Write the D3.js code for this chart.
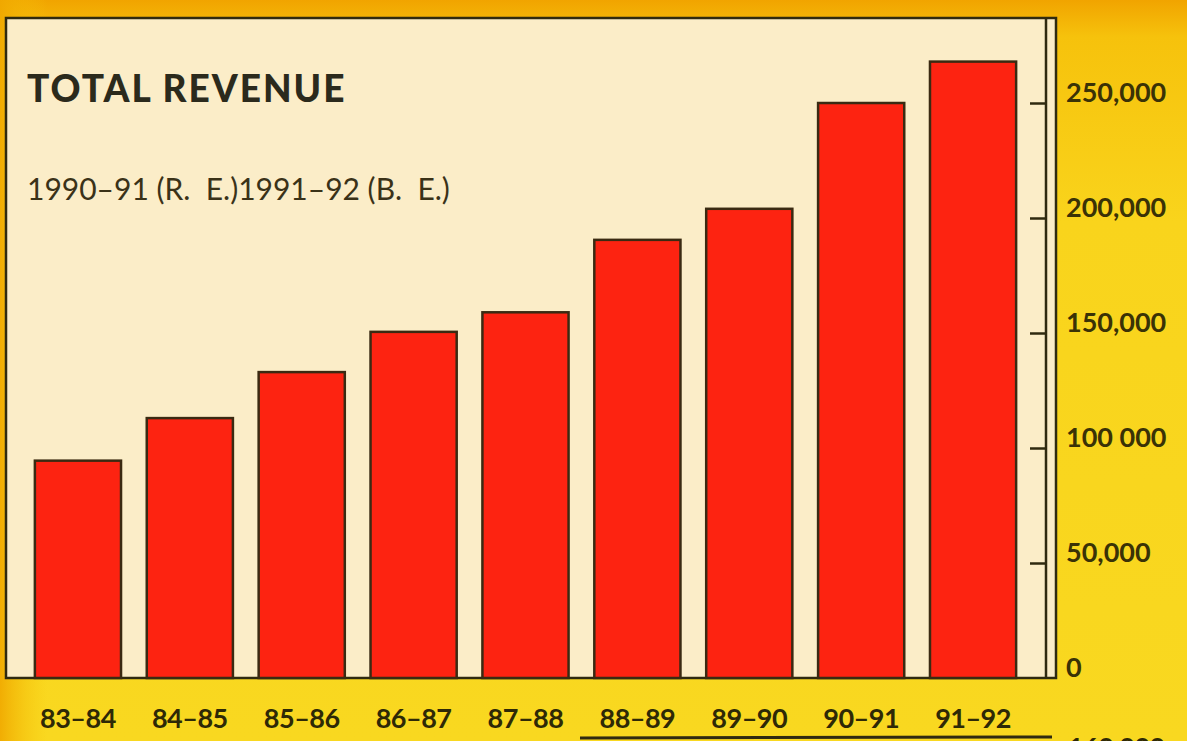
<!DOCTYPE html>
<html>
<head>
<meta charset="utf-8">
<script src="https://cdn.jsdelivr.net/npm/d3@7"></script>
<style>
  body { margin: 0; background: #f8d21c; }
  svg { display: block; }
  .tickLabel text { font-family: Lato, "Open Sans", sans-serif; font-weight: bold; font-size: 27px; fill: #3a3206; }
  .catLabel { font-family: Lato, "Open Sans", sans-serif; font-weight: bold; font-size: 27px; fill: #2e2906; letter-spacing: -0.5px; }
</style>
</head>
<body>
<div id="chart"></div>
<script>
    "use strict";

    // years on the x axis
    var years = ['83-84', '84-85', '85-86', '86-87', '87-88', '88-89', '89-90', '90-91', '91-92'];
    // total revenue
    var revenue = [94500, 113000, 133000, 150500, 159000, 190500, 204000, 250000, 268000];
    // right axis
    var tickValues = [0, 50000, 100000, 150000, 200000, 250000];
    var tickLabels = ['0', '50,000', '100 000', '150,000', '200,000', '250,000'];

    var title = 'TOTAL REVENUE';
    var subtitle = '1990\u201391 (R.  E.)1991\u201392 (B.  E.)';

    var width = 1187;
    var height = 741;

    var panelLeft = 6;
    var panelTop = 18;
    var panelRight = 1046;
    var baseY = 678;

    var svg = d3.select('#chart').append('svg')
        .attr('width', width)
        .attr('height', height);

    var defs = svg.append('defs');
    var bg = defs.append('linearGradient')
        .attr('id', 'bgGrad')
        .attr('x1', 0).attr('y1', 0).attr('x2', 0).attr('y2', 1);
    bg.append('stop').attr('offset', '0').attr('stop-color', '#f1a400');
    bg.append('stop').attr('offset', '0.05').attr('stop-color', '#f6c20c');
    bg.append('stop').attr('offset', '0.3').attr('stop-color', '#f9d41c');
    bg.append('stop').attr('offset', '1').attr('stop-color', '#f9d820');

    var side = defs.append('linearGradient')
        .attr('id', 'sideGrad')
        .attr('x1', 0).attr('y1', 0).attr('x2', 1).attr('y2', 0);
    side.append('stop').attr('offset', '0').attr('stop-color', '#f0a800').attr('stop-opacity', 0.9);
    side.append('stop').attr('offset', '0.04').attr('stop-color', '#f6c60c').attr('stop-opacity', 0);
    side.append('stop').attr('offset', '1').attr('stop-color', '#f6c60c').attr('stop-opacity', 0);

    svg.append('rect').attr('width', width).attr('height', height).attr('fill', 'url(#bgGrad)');
    svg.append('rect').attr('width', width).attr('height', height).attr('fill', 'url(#sideGrad)');

    // cream panel
    svg.append('rect')
        .attr('x', panelLeft)
        .attr('y', panelTop)
        .attr('width', panelRight + 10 - panelLeft)
        .attr('height', baseY - panelTop)
        .attr('fill', '#fbedc8')
        .attr('stroke', '#2f2a10')
        .attr('stroke-width', 2.5);

    // inner right border line (double rule)
    svg.append('line')
        .attr('x1', panelRight).attr('x2', panelRight)
        .attr('y1', panelTop).attr('y2', baseY)
        .attr('stroke', '#2f2a10')
        .attr('stroke-width', 2.5);

    var x = d3.scaleBand()
        .domain(years)
        .range([22, 1029])
        .paddingInner(0.23)
        .paddingOuter(0.115);

    var y = d3.scaleLinear()
        .domain([0, 250000])
        .range([baseY, 103]);

    svg.append('g').attr('class', 'bars')
        .selectAll('rect')
        .data(years)
        .enter()
        .append('rect')
        .attr('x', function (d) { return x(d); })
        .attr('y', function (d, i) { return y(revenue[i]); })
        .attr('width', x.bandwidth())
        .attr('height', function (d, i) { return baseY - y(revenue[i]); })
        .attr('fill', '#fd2311')
        .attr('stroke', '#3a2a12')
        .attr('stroke-width', 2.5);

    var yAxis = d3.axisRight(y)
        .tickValues(tickValues)
        .tickSizeInner(-16)
        .tickSizeOuter(0)
        .tickPadding(20)
        .tickFormat(function (d, i) { return tickLabels[i]; });

    var axisG = svg.append('g')
        .attr('class', 'tickLabel')
        .attr('transform', 'translate(' + panelRight + ',0)')
        .call(yAxis);
    axisG.select('.domain').remove();
    axisG.selectAll('.tick line')
        .attr('stroke', '#2f2a10')
        .attr('stroke-width', 2.5);
    axisG.selectAll('.tick text')
        .attr('dy', '-0.05em');
    // zero tick sits on the baseline, no mark there
    axisG.selectAll('.tick').filter(function (d) { return d === 0; }).select('line').remove();

    svg.append('g')
        .selectAll('text')
        .data(years)
        .enter()
        .append('text')
        .attr('class', 'catLabel')
        .attr('x', function (d) { return x(d) + x.bandwidth() / 2; })
        .attr('y', 728)
        .attr('text-anchor', 'middle')
        .text(function (d) { return d.replace('-', '\u2013'); });

    svg.append('text')
        .attr('x', 27)
        .attr('y', 102)
        .attr('font-family', 'Lato, "Open Sans", sans-serif')
        .attr('font-weight', 900)
        .attr('font-size', 37)
        .attr('letter-spacing', 2)
        .attr('fill', '#2b2a1c')
        .text(title);

    svg.append('text')
        .attr('x', 27)
        .attr('y', 200)
        .attr('font-family', 'Lato, "Open Sans", sans-serif')
        .attr('font-size', 30)
        .attr('fill', '#3a3218')
        .attr('xml:space', 'preserve')
        .style('white-space', 'pre')
        .text(subtitle);

    // edge of the next chart on the page
    svg.append('line')
        .attr('x1', 580).attr('x2', 1052)
        .attr('y1', 738).attr('y2', 737)
        .attr('stroke', '#2f2a10')
        .attr('stroke-width', 3);
    svg.append('text')
        .attr('class', 'catLabel')
        .attr('x', 1068)
        .attr('y', 757)
        .text('160,000');
</script>
</body>
</html>
